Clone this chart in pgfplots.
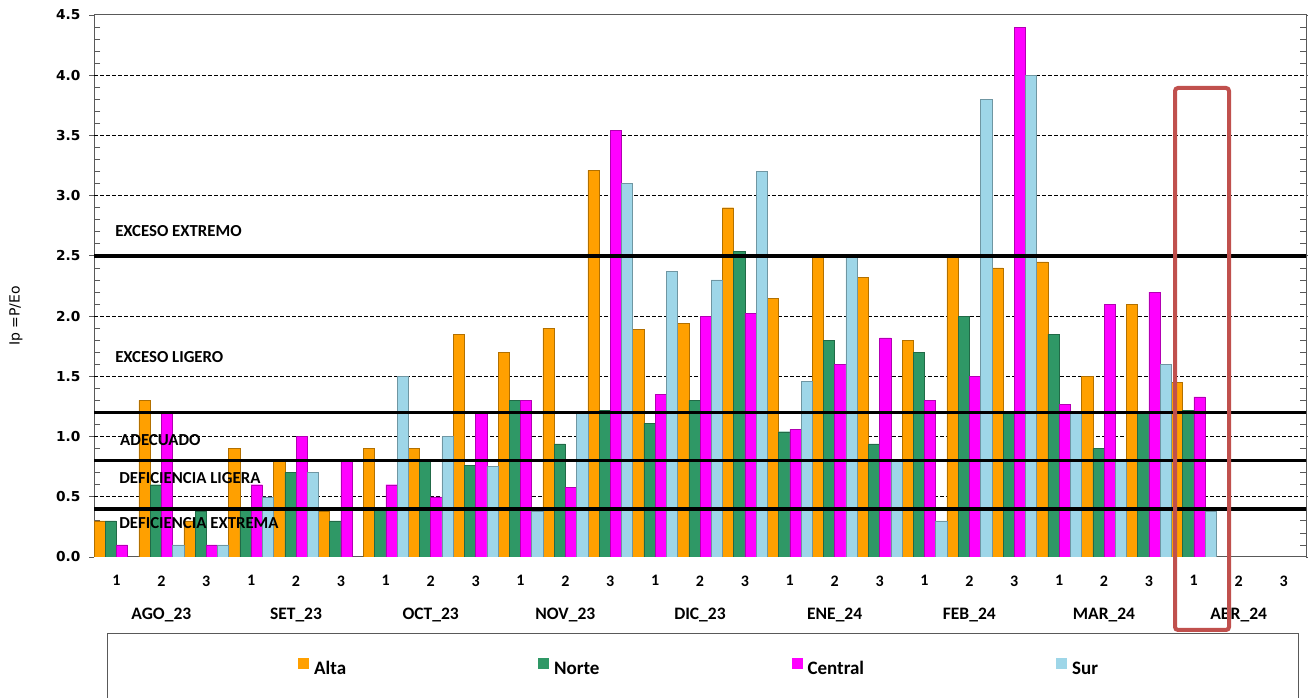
\documentclass[border=0pt]{standalone}
\usepackage{fontspec}
\setmainfont{Carlito}
\newfontfamily\dejavu{DejaVu Sans}
\usepackage{pgfplots}
\pgfplotsset{compat=1.18}

\definecolor{alta}{HTML}{FFA000}
\definecolor{norte}{HTML}{2F9866}
\definecolor{central}{HTML}{FF00FF}
\definecolor{sur}{HTML}{9ED6E8}
\definecolor{marco}{HTML}{C0504D}
\definecolor{ejes}{HTML}{595959}

\pgfplotsset{
  barra/.style={fill=#1, draw=#1!70!black, line width=0.4pt, forget plot},
}

\begin{document}
\begin{tikzpicture}
\useasboundingbox (0pt,0pt) rectangle (1308pt,698pt);
\begin{axis}[
    at={(94pt,141pt)}, anchor=south west,
    width=1212pt, height=542pt, scale only axis,
    xmin=-0.5, xmax=26.5, ymin=0, ymax=4.5,
    ybar=0pt, bar width=0.25,
    axis line style={ejes, line width=1pt},
    % x: dekads with the month under the middle one
    xtick={0,...,26},
    xticklabels={1,{2\\[17pt]\fontsize{17.5}{17.5}\selectfont AGO\_23},3,
                 1,{2\\[17pt]\fontsize{17.5}{17.5}\selectfont SET\_23},3,
                 1,{2\\[17pt]\fontsize{17.5}{17.5}\selectfont OCT\_23},3,
                 1,{2\\[17pt]\fontsize{17.5}{17.5}\selectfont NOV\_23},3,
                 1,{2\\[17pt]\fontsize{17.5}{17.5}\selectfont DIC\_23},3,
                 1,{2\\[17pt]\fontsize{17.5}{17.5}\selectfont ENE\_24},3,
                 1,{2\\[17pt]\fontsize{17.5}{17.5}\selectfont FEB\_24},3,
                 1,{2\\[17pt]\fontsize{17.5}{17.5}\selectfont MAR\_24},3,
                 1,{2\\[17pt]\fontsize{17.5}{17.5}\selectfont ABR\_24},3},
    xtick style={draw=none},
    xticklabel style={font=\bfseries\fontsize{16}{16}\selectfont, align=center,
                      anchor=north, yshift=-10pt},
    % y
    ytick={0,0.5,...,4.5},
    minor y tick num=4,
    ytick align=outside,
    major tick length=5pt,
    minor tick length=-6pt,
    ytick style={ejes, line width=0.8pt},
    yticklabel style={font=\dejavu\bfseries\fontsize{13.7}{14}\selectfont, xshift=-5pt},
    /pgf/number format/assume math mode=true,
    yticklabel={\pgfmathprintnumber[fixed,fixed zerofill,precision=1]{\tick}},
    extra y ticks={0.5,1.0,...,4.0},
    extra y tick labels={},
    extra y tick style={grid=major},
    ylabel={Ip =P/Eo},
    ylabel style={font=\dejavu\fontsize{14}{14}\selectfont, at={(axis description cs:-0.0644,0.445)}, anchor=center},
    grid style={black, line width=0.8pt, dash pattern=on 4pt off 2pt},
    % legend
    legend columns=4,
    legend style={at={(axis description cs:0.1683,-0.203)}, anchor=west,
                  draw=none, fill=none, inner sep=0pt,
                  font=\bfseries\fontsize{19}{19}\selectfont,
                  nodes={inner sep=0pt}},
    legend image code/.code={\draw[#1, draw=none] (0pt,0pt) rectangle (11pt,11pt);},
]
\addplot[barra=alta, bar shift=-0.375] coordinates {
 (0,0.30) (1,1.30) (2,0.30) (3,0.90) (4,0.80) (5,0.38) (6,0.90) (7,0.90) (8,1.85)
 (9,1.70) (10,1.90) (11,3.21) (12,1.89) (13,1.94) (14,2.90) (15,2.15) (16,2.50) (17,2.32)
 (18,1.80) (19,2.50) (20,2.40) (21,2.45) (22,1.50) (23,2.10) (24,1.45)};
\addplot[barra=norte, bar shift=-0.125] coordinates {
 (0,0.30) (1,0.60) (2,0.38) (3,0.40) (4,0.70) (5,0.30) (6,0.40) (7,0.80) (8,0.76)
 (9,1.30) (10,0.94) (11,1.22) (12,1.11) (13,1.30) (14,2.54) (15,1.04) (16,1.80) (17,0.94)
 (18,1.70) (19,2.00) (20,1.21) (21,1.85) (22,0.90) (23,1.21) (24,1.22)};
\addplot[barra=central, bar shift=0.125] coordinates {
 (0,0.10) (1,1.20) (2,0.10) (3,0.60) (4,1.00) (5,0.80) (6,0.60) (7,0.50) (8,1.19)
 (9,1.30) (10,0.58) (11,3.54) (12,1.35) (13,2.00) (14,2.02) (15,1.06) (16,1.60) (17,1.82)
 (18,1.30) (19,1.50) (20,4.40) (21,1.27) (22,2.10) (23,2.20) (24,1.33)};
\addplot[barra=sur, bar shift=0.375] coordinates {
 (1,0.10) (2,0.10) (3,0.50) (4,0.70) (6,1.50) (7,1.00) (8,0.75)
 (9,0.38) (10,1.20) (11,3.10) (12,2.37) (13,2.30) (14,3.20) (15,1.46) (16,2.50) (17,0.80)
 (18,0.30) (19,3.80) (20,4.00) (21,1.20) (22,0.80) (23,1.60) (24,0.38)};

\addlegendimage{fill=alta, draw=none}
\addlegendentry{\hspace*{5pt}Alta\hspace*{192pt}}
\addlegendimage{fill=norte, draw=none}
\addlegendentry{\hspace*{5pt}Norte\hspace*{192pt}}
\addlegendimage{fill=central, draw=none}
\addlegendentry{\hspace*{5pt}Central\hspace*{192pt}}
\addlegendimage{fill=sur, draw=none}
\addlegendentry{\hspace*{5pt}Sur}

% limits between classes
\addplot[sharp plot, black, line width=3.5pt, forget plot] coordinates {(-2,0.4) (29,0.4)};
\addplot[sharp plot, black, line width=3.5pt, forget plot] coordinates {(-2,0.8) (29,0.8)};
\addplot[sharp plot, black, line width=3.5pt, forget plot] coordinates {(-2,1.2) (29,1.2)};
\addplot[sharp plot, black, line width=3.5pt, forget plot] coordinates {(-2,2.5) (29,2.5)};

\begin{scope}[font=\bfseries\fontsize{16.8}{16.8}\selectfont]
\node[anchor=west, inner sep=0pt] at (axis cs:-0.03,2.704) {EXCESO EXTREMO};
\node[anchor=west, inner sep=0pt] at (axis cs:-0.03,1.663) {EXCESO LIGERO};
\node[anchor=west, inner sep=0pt] at (axis cs:0.08,0.971) {ADECUADO};
\node[anchor=west, inner sep=0pt] at (axis cs:0.06,0.653) {DEFICIENCIA LIGERA};
\node[anchor=west, inner sep=0pt] at (axis cs:0.06,0.285) {DEFICIENCIA EXTREMA};
\end{scope}

% separators under the x axis
\pgfplotsinvokeforeach{-0.5,0.5,...,26.5}{
  \draw[ejes, line width=0.8pt] (axis cs:#1,0) -- ++(0pt,-33pt);
}
\pgfplotsinvokeforeach{-0.5,2.5,...,26.5}{
  \draw[ejes, line width=0.8pt] (axis cs:#1,0) -- ++(0pt,-67pt);
}
\end{axis}
\draw[ejes, line width=1pt] (107pt,-10pt) rectangle (1298pt,64pt);
\draw[marco, line width=4pt, rounded corners=3pt] (1175pt,68pt) rectangle (1229pt,610pt);
\end{tikzpicture}
\end{document}
